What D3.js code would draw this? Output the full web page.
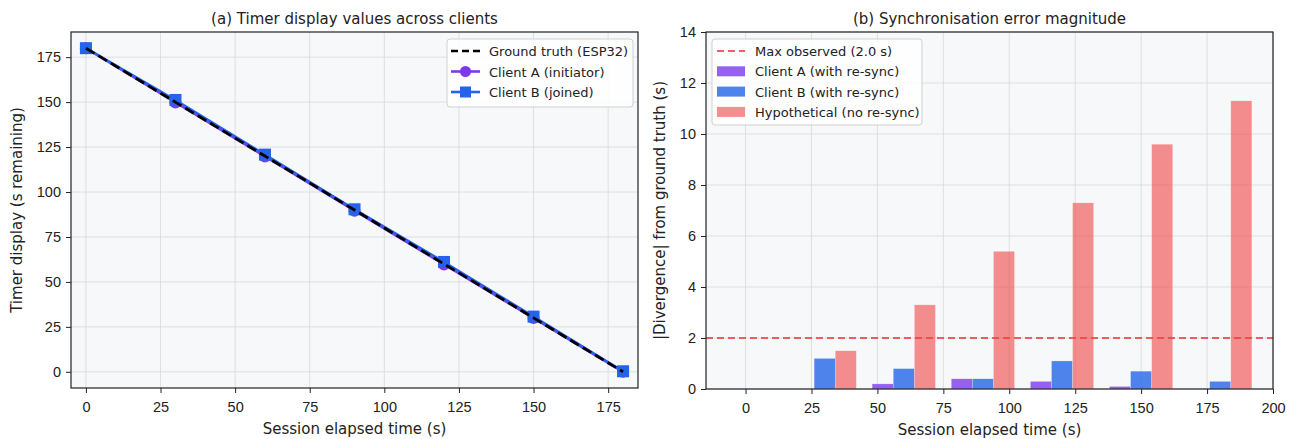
<!DOCTYPE html>
<html lang="en">
  <head>
    <meta charset="UTF-8" />
    <title>Timer sync</title>
    <script src="https://d3js.org/d3.v7.min.js"></script>
  </head>
  <style>
    body { margin: 0; background: #fff; }
    svg { font-family: "DejaVu Sans", sans-serif; }
    .tick text { font-size: 14.5px; fill: #222; }
    .tick line { stroke: #222; }
    .domain { display: none; }
    .grid line { stroke: #d8d8dc; stroke-opacity: 0.8; }
    .title { font-size: 15px; fill: #222; }
    .label { font-size: 15px; fill: #222; }
    .legend text { font-size: 13px; fill: #222; }
  </style>
  <body>
    <svg width="1296" height="439"></svg>
    <script>
      // left panel data
      var times = [0, 30, 60, 90, 120, 150, 180];
      var groundTruth = [180, 150, 120, 90, 60, 30, 0];
      var clientA = [180, 149.8, 119.8, 89.6, 59.7, 29.9, 0];
      var clientB = [180, 151.2, 120.8, 90.4, 61.1, 30.7, 0.3];

      // right panel data
      var barTimes = [30, 60, 90, 120, 150, 180];
      var divA = [0, 0.2, 0.4, 0.3, 0.1, 0];
      var divB = [1.2, 0.8, 0.4, 1.1, 0.7, 0.3];
      var divHypo = [1.5, 3.3, 5.4, 7.3, 9.6, 11.3];
      var maxObserved = 2.0;

      var leftTicksX = [0, 25, 50, 75, 100, 125, 150, 175];
      var leftTicksY = [0, 25, 50, 75, 100, 125, 150, 175];
      var rightTicksX = [0, 25, 50, 75, 100, 125, 150, 175, 200];
      var rightTicksY = [0, 2, 4, 6, 8, 10, 12, 14];

      var purple = "#7c3aed", blue = "#2563eb";
      var svg = d3.select("svg");

      function panel(box, xs, ys, xt, yt, title, xlab, ylab) {
        var g = svg.append("g");
        g.append("rect").attr("x", box.x0).attr("y", box.y0)
          .attr("width", box.x1 - box.x0).attr("height", box.y1 - box.y0)
          .attr("fill", "#f7f8fa");
        // grid
        var grid = g.append("g").attr("class", "grid");
        grid.selectAll("line.v").data(xt).enter().append("line")
          .attr("x1", xs).attr("x2", xs).attr("y1", box.y0).attr("y2", box.y1);
        grid.selectAll("line.h").data(yt).enter().append("line")
          .attr("y1", ys).attr("y2", ys).attr("x1", box.x0).attr("x2", box.x1);
        g.append("g").attr("transform", "translate(0," + box.y1 + ")")
          .call(d3.axisBottom(xs).tickValues(xt).tickSize(5).tickPadding(9));
        g.append("g").attr("transform", "translate(" + box.x0 + ",0)")
          .call(d3.axisLeft(ys).tickValues(yt).tickSize(5).tickPadding(5));
        g.append("text").attr("class", "title")
          .attr("x", (box.x0 + box.x1) / 2).attr("y", box.y0 - 8.5)
          .attr("text-anchor", "middle").text(title);
        g.append("text").attr("class", "label")
          .attr("x", (box.x0 + box.x1) / 2).attr("y", box.y1 + 45.5)
          .attr("text-anchor", "middle").text(xlab);
        g.append("text").attr("class", "label")
          .attr("transform", "translate(" + box.labX + "," + ((box.y0 + box.y1) / 2) + ") rotate(-90)")
          .attr("text-anchor", "middle").text(ylab);
        return g;
      }

      function frame(g, box) {
        g.append("rect").attr("x", box.x0).attr("y", box.y0)
          .attr("width", box.x1 - box.x0).attr("height", box.y1 - box.y0)
          .attr("fill", "none").attr("stroke", "#222").attr("stroke-width", 1.2);
      }

      // ---------- panel (a)
      var boxA = { x0: 71, x1: 638, y0: 32, y1: 388, labX: 22 };
      var xA = d3.scaleLinear().domain([-5, 185]).range([boxA.x0, boxA.x1]);
      var yA = d3.scaleLinear().domain([-9, 189]).range([boxA.y1, boxA.y0]);
      var gA = panel(boxA, xA, yA, leftTicksX, leftTicksY,
        "(a) Timer display values across clients", "Session elapsed time (s)", "Timer display (s remaining)");

      var lineA = d3.line().x(function (d) { return xA(d[0]); }).y(function (d) { return yA(d[1]); });
      function zipT(vals) { return times.map(function (t, i) { return [t, vals[i]]; }); }

      gA.append("path").datum(zipT(clientA)).attr("d", lineA)
        .attr("fill", "none").attr("stroke", purple).attr("stroke-width", 2.5);
      gA.selectAll("circle.a").data(zipT(clientA)).enter().append("circle")
        .attr("cx", function (d) { return xA(d[0]); }).attr("cy", function (d) { return yA(d[1]); })
        .attr("r", 6).attr("fill", purple);
      gA.append("path").datum(zipT(clientB)).attr("d", lineA)
        .attr("fill", "none").attr("stroke", blue).attr("stroke-width", 2.5);
      gA.selectAll("rect.b").data(zipT(clientB)).enter().append("rect")
        .attr("x", function (d) { return xA(d[0]) - 6; }).attr("y", function (d) { return yA(d[1]) - 6; })
        .attr("width", 12).attr("height", 12).attr("fill", blue);
      gA.append("path").datum(zipT(groundTruth)).attr("d", lineA)
        .attr("fill", "none").attr("stroke", "#000").attr("stroke-width", 2.8)
        .attr("stroke-dasharray", "10,4.5");
      frame(gA, boxA);

      // legend (a)
      var legA = gA.append("g").attr("class", "legend").attr("transform", "translate(447,39)");
      legA.append("rect").attr("width", 186).attr("height", 68).attr("rx", 3)
        .attr("fill", "#fff").attr("fill-opacity", 0.85).attr("stroke", "#d0d0d0");
      var legItemsA = [
        { label: "Ground truth (ESP32)", color: "#000", dash: "7,4", mark: null },
        { label: "Client A (initiator)", color: purple, dash: null, mark: "circle" },
        { label: "Client B (joined)", color: blue, dash: null, mark: "square" }
      ];
      legItemsA.forEach(function (it, i) {
        var y = 12 + i * 20.5;
        legA.append("line").attr("x1", 4).attr("x2", 33).attr("y1", y).attr("y2", y)
          .attr("stroke", it.color).attr("stroke-width", 2.6)
          .attr("stroke-dasharray", it.dash);
        if (it.mark === "circle") legA.append("circle").attr("cx", 18.5).attr("cy", y).attr("r", 5.5).attr("fill", it.color);
        if (it.mark === "square") legA.append("rect").attr("x", 13).attr("y", y - 5.5).attr("width", 11).attr("height", 11).attr("fill", it.color);
        legA.append("text").attr("x", 42).attr("y", y + 5).text(it.label);
      });

      // ---------- panel (b)
      var boxB = { x0: 706, x1: 1273, y0: 32, y1: 389, labX: 665 };
      var xB = d3.scaleLinear().domain([-15, 200]).range([boxB.x0, boxB.x1]);
      var yB = d3.scaleLinear().domain([0, 14]).range([boxB.y1, boxB.y0]);
      var gB = panel(boxB, xB, yB, rightTicksX, rightTicksY,
        "(b) Synchronisation error magnitude", "Session elapsed time (s)", "|Divergence| from ground truth (s)");

      var barW = 8;
      var series = [
        { vals: divA, off: -barW, color: "#8b4ff0", op: 0.9 },
        { vals: divB, off: 0, color: "#3b76ea", op: 0.9 },
        { vals: divHypo, off: barW, color: "#ef4444", op: 0.6 }
      ];
      series.forEach(function (s) {
        gB.append("g").selectAll("rect").data(barTimes).enter().append("rect")
          .attr("x", function (t) { return xB(t + s.off - barW / 2); })
          .attr("width", function () { return xB(barW) - xB(0); })
          .attr("y", function (t, i) { return yB(s.vals[i]); })
          .attr("height", function (t, i) { return yB(0) - yB(s.vals[i]); })
          .attr("fill", s.color).attr("fill-opacity", s.op)
          .attr("stroke", "#fff").attr("stroke-width", 0.5).attr("stroke-opacity", 0.5);
      });
      gB.append("line").attr("x1", boxB.x0).attr("x2", boxB.x1)
        .attr("y1", yB(maxObserved)).attr("y2", yB(maxObserved))
        .attr("stroke", "#ef4444").attr("stroke-opacity", 0.85).attr("stroke-width", 1.8)
        .attr("stroke-dasharray", "7,4");
      frame(gB, boxB);

      var legB = gB.append("g").attr("class", "legend").attr("transform", "translate(712,39)");
      legB.append("rect").attr("width", 210).attr("height", 86).attr("rx", 3)
        .attr("fill", "#fff").attr("fill-opacity", 0.85).attr("stroke", "#d0d0d0");
      var legItemsB = [
        { label: "Max observed (2.0 s)", line: true, color: "#ef4444", op: 0.85 },
        { label: "Client A (with re-sync)", color: "#8b4ff0", op: 0.9 },
        { label: "Client B (with re-sync)", color: "#3b76ea", op: 0.9 },
        { label: "Hypothetical (no re-sync)", color: "#ef4444", op: 0.6 }
      ];
      legItemsB.forEach(function (it, i) {
        var y = 12 + i * 20.3;
        if (it.line) {
          legB.append("line").attr("x1", 5).attr("x2", 33).attr("y1", y).attr("y2", y)
            .attr("stroke", it.color).attr("stroke-opacity", it.op).attr("stroke-width", 1.8)
            .attr("stroke-dasharray", "7,4");
        } else {
          legB.append("rect").attr("x", 5).attr("y", y - 5).attr("width", 28).attr("height", 10)
            .attr("fill", it.color).attr("fill-opacity", it.op);
        }
        legB.append("text").attr("x", 43).attr("y", y + 5).text(it.label);
      });
    </script>
  </body>
</html>
